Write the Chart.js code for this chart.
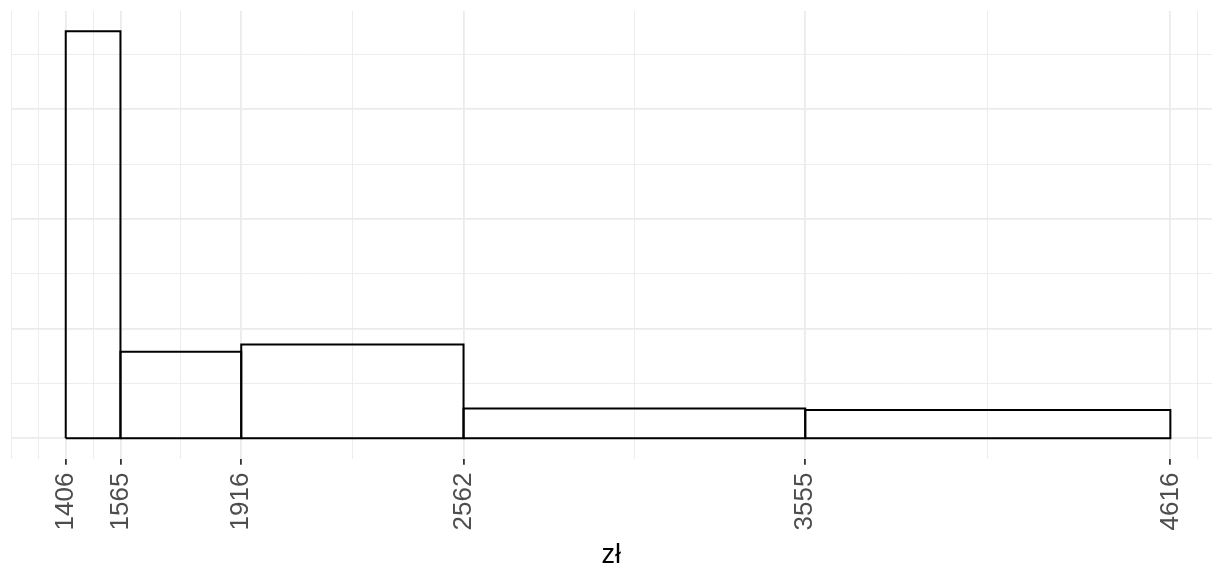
<!DOCTYPE html>
<html>
<head>
<meta charset="utf-8">
<script src="https://cdn.jsdelivr.net/npm/chart.js@4/dist/chart.umd.min.js"></script>
<style>
  html, body { margin: 0; padding: 0; background: #fff; overflow: hidden; }
  #wrap { width: 1212px; height: 569px; }
</style>
</head>
<body>
<div id="wrap"><canvas id="hist" width="1212" height="569"></canvas></div>
<script>
// Bin edges (zł) and density heights
const breaks = [1406, 1565, 1916, 2562, 3555, 4616]
const heights = [0.001855, 0.000394, 0.000428, 0.0001356, 0.000129]

// y grid (no labels shown)
const yMajor = [0, 0.0005, 0.001, 0.0015]
const yMinor = [0.00025, 0.00075, 0.00125, 0.00175]

const xLabel = "zł"

// ggplot-style minor breaks: midpoints, extended one step past each end
function minorBreaks(b) {
  const step = b[1] - b[0]
  const ext = [b[0] - step, ...b, b[b.length - 1] + step]
  const out = [ext[0], ext[ext.length - 1]]
  for (let i = 0; i < ext.length - 1; i++) out.push((ext[i] + ext[i + 1]) / 2)
  return out
}

const xMinor = minorBreaks(breaks)
const xAll = [...breaks, ...xMinor].sort((a, b) => a - b)
const yAll = [...yMajor, ...yMinor].sort((a, b) => a - b)

// pad the axis ranges by 5% like ggplot
const xSpan = breaks[breaks.length - 1] - breaks[0]
const xMin = breaks[0] - xSpan * 0.05
const xMaxFull = breaks[breaks.length - 1] + xSpan * 0.05
// the original panel runs ~14px past the right edge of the picture (1201.5 of 1215 px shown)
const xMax = xMin + (xMaxFull - xMin) * (1201.5 / 1215.1)
const yTop = Math.max(...heights)
const yMin = -yTop * 0.05
const yMax = yTop * 1.05

// one closed outline per bin
const datasets = heights.map((h, i) => ({
  data: [
    { x: breaks[i], y: 0 },
    { x: breaks[i], y: h },
    { x: breaks[i + 1], y: h },
    { x: breaks[i + 1], y: 0 },
    { x: breaks[i], y: 0 },
  ],
  showLine: true,
  borderColor: "#000000",
  borderWidth: 2,
  borderJoinStyle: "miter",
  backgroundColor: "#ffffff",
  fill: "origin",
  pointRadius: 0,
  pointHoverRadius: 0,
  tension: 0,
}))

const isMajorX = (v) => breaks.includes(v)
const isMajorY = (v) => yMajor.includes(v)

new Chart(document.getElementById("hist"), {
  type: "scatter",
  data: { datasets },
  options: {
    responsive: false,
    animation: false,
    events: [],
    layout: { padding: { left: 10.5, right: 0, top: 11, bottom: 0 } },
    plugins: {
      legend: { display: false },
      tooltip: { enabled: false },
      filler: { drawTime: "beforeDatasetsDraw" },
    },
    scales: {
      x: {
        type: "linear",
        min: xMin,
        max: xMax,
        afterBuildTicks: (scale) => {
          scale.ticks = xAll.filter((v) => v <= xMax).map((v) => ({ value: v }))
        },
        // don't let the rotated labels push the plot area in from the sides
        afterFit: (scale) => {
          scale.paddingLeft = 0
          scale.paddingRight = 0
        },
        ticks: {
          autoSkip: false,
          minRotation: 90,
          maxRotation: 90,
          padding: 8,
          color: "#4D4D4D",
          font: { family: "'Liberation Sans', Arial, sans-serif", size: 26 },
          callback: (v) => (isMajorX(v) ? String(v) : ""),
        },
        grid: {
          color: "#EBEBEB",
          lineWidth: (c) => (c.tick && isMajorX(c.tick.value) ? 1.8 : 0.9),
          tickColor: (c) => (c.tick && isMajorX(c.tick.value) ? "#333333" : "rgba(0,0,0,0)"),
          tickWidth: 1.8,
          tickLength: 6,
        },
        border: { display: false },
        title: {
          display: true,
          text: xLabel,
          color: "#000000",
          font: { family: "'Liberation Sans', Arial, sans-serif", size: 27, lineHeight: 1 },
          padding: { top: 3.5, bottom: 0 },
        },
      },
      y: {
        type: "linear",
        min: yMin,
        max: yMax,
        afterBuildTicks: (scale) => {
          scale.ticks = yAll.map((v) => ({ value: v }))
        },
        ticks: { display: false },
        grid: {
          color: "#EBEBEB",
          lineWidth: (c) => (c.tick && isMajorY(c.tick.value) ? 1.8 : 0.9),
          drawTicks: false,
        },
        border: { display: false },
      },
    },
  },
})
</script>
</body>
</html>
